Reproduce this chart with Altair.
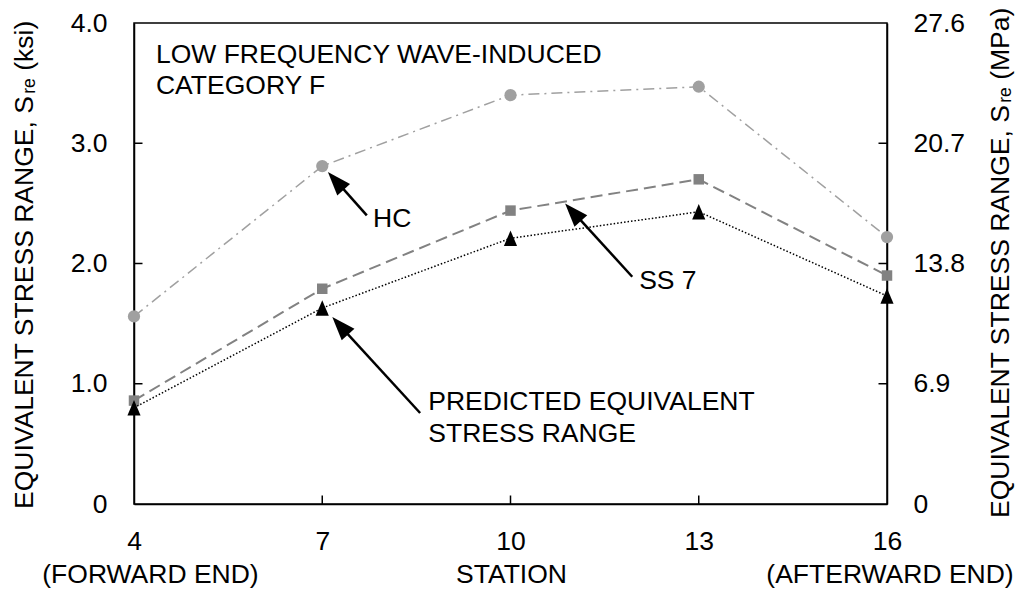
import altair as alt
import pandas as pd

# ---------------- data ----------------
stations = [4, 7, 10, 13, 16]
hc = [1.56, 2.81, 3.40, 3.47, 2.22]
ss7 = [0.86, 1.79, 2.44, 2.70, 1.90]
predicted = [0.80, 1.63, 2.21, 2.43, 1.73]

ksi_ticks = [0, 1, 2, 3, 4]
station_ticks = [4, 7, 10, 13, 16]
inner_ticks_ksi = [1, 2, 3]
inner_ticks_station = [7, 10, 13]
mpa_per_ksi = 6.9

note_texts = ["LOW FREQUENCY WAVE-INDUCED", "CATEGORY F", "HC", "SS 7",
              "PREDICTED EQUIVALENT", "STRESS RANGE"]
note_station = [4.35, 4.35, 7.81, 12.05, 8.69, 8.69]
note_ksi = [3.667, 3.41, 2.30, 1.79, 0.78, 0.515]

arrow_tail_station = [7.71, 11.94, 8.56]
arrow_tail_ksi = [2.40, 1.89, 0.757]
arrow_shaft_end_station = [7.20, 10.975, 7.264]
arrow_shaft_end_ksi = [2.699, 2.442, 1.494]
arrow_tip_station = [7.09, 10.87, 7.16]
arrow_tip_ksi = [2.76, 2.50, 1.555]

# ---------------- styles ----------------
FONT = "Liberation Sans"
FS = 26.5
HC_COL = "#a0a0a0"
SS_COL = "#828282"
W, H = 753, 481

xscale = alt.Scale(domain=[4, 16], nice=False, zero=False)
yscale = alt.Scale(domain=[0, 4], nice=False, zero=True)

x_enc = alt.X("station:Q", scale=xscale,
              axis=alt.Axis(values=station_ticks, title=None, grid=False, ticks=False,
                            labelPadding=24, labelFontSize=FS, labelFont=FONT,
                            labelColor="black", domainColor="black", domainWidth=1.5,
                            labelFlush=False, labelOverlap=False, format="d"))
y_left = alt.Y("ksi:Q", scale=yscale,
               axis=alt.Axis(orient="left", values=ksi_ticks, title=None, grid=False,
                             ticks=False, labelPadding=27, labelFontSize=FS, labelFont=FONT,
                             labelColor="black", domainColor="black", domainWidth=1.5,
                             labelOverlap=False,
                             labelExpr="datum.value == 0 ? '0' : format(datum.value, '.1f')"))
y_right = alt.Y("ksi:Q", scale=yscale,
                axis=alt.Axis(orient="right", values=ksi_ticks, title=None, grid=False,
                              ticks=False, labelPadding=26, labelFontSize=FS, labelFont=FONT,
                              labelColor="black", domainColor="black", domainWidth=1.5,
                              labelOverlap=False,
                              labelExpr="datum.value == 0 ? '0' : format(datum.value * %s, '.1f')" % mpa_per_ksi))
y_none = alt.Y("ksi:Q", scale=yscale, axis=None)


def series_df(vals):
    return pd.DataFrame({"station": stations, "ksi": vals})


# series
hc_line = alt.Chart(series_df(hc)).mark_line(
    color=HC_COL, strokeWidth=1.5, strokeDash=[11, 5, 2, 5]).encode(x=x_enc, y=y_left)
hc_pts = alt.Chart(series_df(hc)).mark_point(
    shape="circle", filled=True, size=150, color=HC_COL, opacity=1).encode(x=x_enc, y=y_none)

ss_line = alt.Chart(series_df(ss7)).mark_line(
    color=SS_COL, strokeWidth=2, strokeDash=[12, 6]).encode(x=x_enc, y=y_none)
ss_pts = alt.Chart(series_df(ss7)).mark_point(
    shape="square", filled=True, size=110, color=SS_COL, opacity=1).encode(x=x_enc, y=y_none)

pr_line = alt.Chart(series_df(predicted)).mark_line(
    color="black", strokeWidth=1.5, strokeDash=[1.5, 2]).encode(x=x_enc, y=y_none)
pr_pts = alt.Chart(series_df(predicted)).mark_point(
    shape="M0,-1L-0.85,1L0.85,1Z", filled=True, size=240, color="black", opacity=1,
    strokeWidth=0).encode(x=x_enc, y=y_none)

# inward ticks (clipped to the plot)
left_ticks = alt.Chart(pd.DataFrame({"station": [stations[0]] * 3, "ksi": inner_ticks_ksi})).mark_tick(
    orient="horizontal", size=17, thickness=1.5, color="black", opacity=1, clip=True).encode(x=x_enc, y=y_none)
right_ticks = alt.Chart(pd.DataFrame({"station": [stations[-1]] * 3, "ksi": inner_ticks_ksi})).mark_tick(
    orient="horizontal", size=17, thickness=1.5, color="black", opacity=1, clip=True).encode(x=x_enc, y=y_right)
bottom_ticks = alt.Chart(pd.DataFrame({"station": inner_ticks_station, "ksi": [0] * 3})).mark_tick(
    orient="vertical", size=17, thickness=1.5, color="black", opacity=1, clip=True).encode(x=x_enc, y=y_none)

# notes and arrows
notes = alt.Chart(pd.DataFrame({"station": note_station, "ksi": note_ksi, "t": note_texts})).mark_text(
    align="left", baseline="alphabetic", font=FONT, fontSize=FS, color="black").encode(
    x=x_enc, y=y_none, text="t:N")

shafts = alt.Chart(pd.DataFrame({"station": arrow_tail_station, "ksi": arrow_tail_ksi,
                                 "s2": arrow_shaft_end_station, "k2": arrow_shaft_end_ksi})).mark_rule(
    color="black", strokeWidth=2.5).encode(x=x_enc, y=y_none, x2="s2:Q", y2="k2:Q")
heads = alt.Chart(pd.DataFrame({"station": arrow_tip_station, "ksi": arrow_tip_ksi})).mark_point(
    shape="M0,0L-0.8,2.2L0.8,2.2Z", filled=True, size=460, angle=318, color="black",
    opacity=1, strokeWidth=0).encode(x=x_enc, y=y_none)


def label(text, px, py, size=FS, angle=0, align="left"):
    one = pd.DataFrame({"k": [0]})
    kw = dict(align=align, baseline="alphabetic", font=FONT, fontSize=size, color="black")
    if angle:
        kw["angle"] = angle
    return alt.Chart(one).mark_text(**kw).encode(
        x=alt.value(px), y=alt.value(py), text=alt.value(text))


# x-axis extra text (plot-area pixel coordinates)
x_texts = [
    label("(FORWARD END)", 16.5, 560, align="center"),
    label("STATION", 377.5, 560, align="center"),
    label("(AFTERWARD END)", 756, 560, align="center"),
]

# vertical axis titles with subscript
main_len = 15.671 * FS
sub_fs = 17.5
sub_len = 0.889 * sub_fs
space = 0.278 * FS
lx, ly = -101, 486
rx, ry = 875, 495
y_titles = [
    label("EQUIVALENT STRESS RANGE, S", lx, ly, angle=270),
    label("re", lx + 2, ly - main_len, size=sub_fs, angle=270),
    label("(ksi)", lx, ly - main_len - sub_len - space, angle=270),
    label("EQUIVALENT STRESS RANGE, S", rx, ry, angle=270),
    label("re", rx + 2, ry - main_len, size=sub_fs, angle=270),
    label("(MPa)", rx, ry - main_len - sub_len - space, angle=270),
]

chart = alt.layer(
    hc_line, hc_pts, ss_line, ss_pts, pr_line, pr_pts,
    left_ticks, right_ticks, bottom_ticks,
    shafts, heads, notes, *x_texts, *y_titles,
).resolve_scale(y="shared", x="shared").resolve_axis(y="independent").properties(
    width=W, height=H,
    padding={"left": 126, "top": 15, "right": 130, "bottom": 85},
    autosize=alt.AutoSizeParams(type="none"),
    background="white",
).configure_view(stroke="black", strokeWidth=1.5)

chart.save("out.html", embed_options={"renderer": "svg", "actions": False})
